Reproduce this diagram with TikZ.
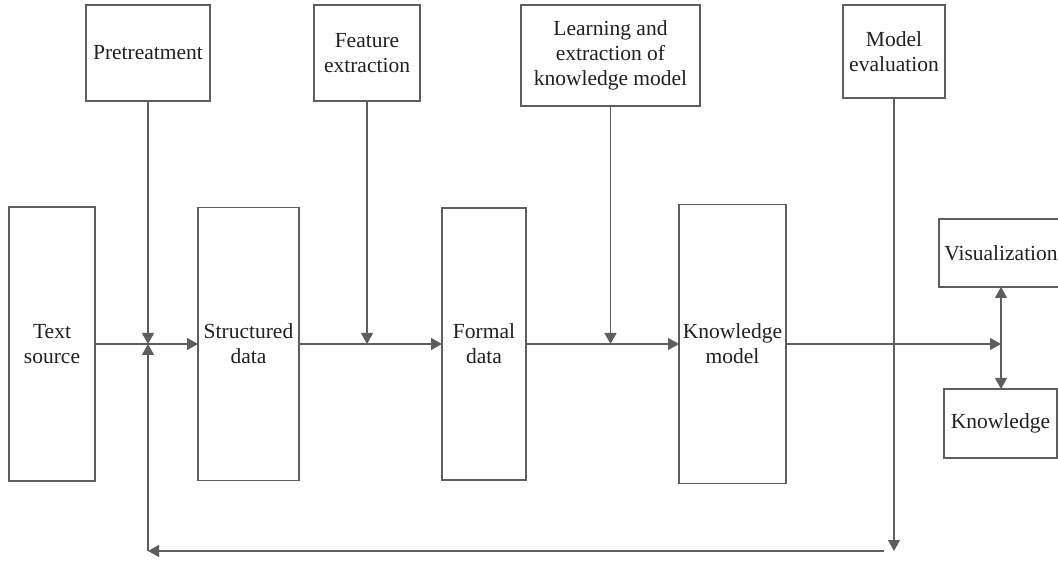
\documentclass[tikz,border=0pt]{standalone}
\usepackage{fontspec}
\setmainfont{Liberation Serif}
\usetikzlibrary{arrows.meta}
\definecolor{linegray}{HTML}{5E5E5E}
\definecolor{textdark}{HTML}{231F20}
\tikzset{
  box/.style={draw=linegray, line width=1.2pt, inner sep=0pt, outer sep=0pt,
    align=center, text=textdark,
    font=\fontsize{21.5}{25}\selectfont},
  conn/.style={draw=linegray, line width=1.2pt,
    -{Triangle[length=11pt,width=12pt]}},
  dconn/.style={draw=linegray, line width=1.2pt,
    {Triangle[length=11pt,width=12pt]}-{Triangle[length=11pt,width=12pt]}},
}
\begin{document}
\begin{tikzpicture}[x=1pt,y=-1pt]
\useasboundingbox (0,0) rectangle (1058,561);
\clip (0,0) rectangle (1058,561);
% main row (centres on the flow line y = 344)
\node[box, minimum width=86pt, minimum height=274pt] (ts) at (52,344) {Text\\source};
\node[box, minimum width=101pt, minimum height=273pt] (sd) at (248.5,344) {Structured\\data};
\node[box, minimum width=84pt, minimum height=272pt] (fd) at (484,344) {Formal\\data};
\node[box, minimum width=107pt, minimum height=279pt] (km) at (732.5,344) {Knowledge\\model};
% top row
\node[box, minimum width=124pt, minimum height=96pt, anchor=north west] (pre) at (86,5) {Pretreatment};
\node[box, minimum width=106pt, minimum height=96pt, anchor=north west] (fe) at (314,5) {Feature\\extraction};
\node[box, minimum width=179pt, minimum height=101pt, anchor=north west] (le) at (521,5) {Learning and\\extraction of\\knowledge model};
\node[box, minimum width=102pt, minimum height=93pt, anchor=north west] (me) at (843,5) {Model\\evaluation};
% right column
\node[box, minimum width=124pt, minimum height=68pt, anchor=north west] (vis) at (939,219) {Visualization};
\node[box, minimum width=113pt, minimum height=69pt, anchor=north west] (kn) at (944,389) {Knowledge};
% junction coordinates
\coordinate (j1) at (pre.south |- ts.east);
\coordinate (j2) at (fe.south |- sd.east);
\coordinate (j3) at (le.south |- fd.east);
\coordinate (j4) at (vis.south |- km.east);
\coordinate (fbL) at (148,551);
\coordinate (fbR) at (884,551);
\coordinate (meEnd) at (me.south |- fbL);
% connectors
\draw[conn] (ts.east) -- (sd.west);
\draw[conn] (sd.east) -- (fd.west);
\draw[conn] (fd.east) -- (km.west);
\draw[conn] (km.east) -- (j4);
\draw[conn] (pre.south) -- (j1);
\draw[conn] (fe.south) -- (j2);
\draw[conn] (le.south) -- (j3);
\draw[conn] (me.south) -- (meEnd);
\draw[conn] (fbR) -- (fbL);
\draw[conn] (fbL) -- (j1);
\draw[dconn] (vis.south) -- (vis.south |- kn.north);
\end{tikzpicture}
\end{document}
